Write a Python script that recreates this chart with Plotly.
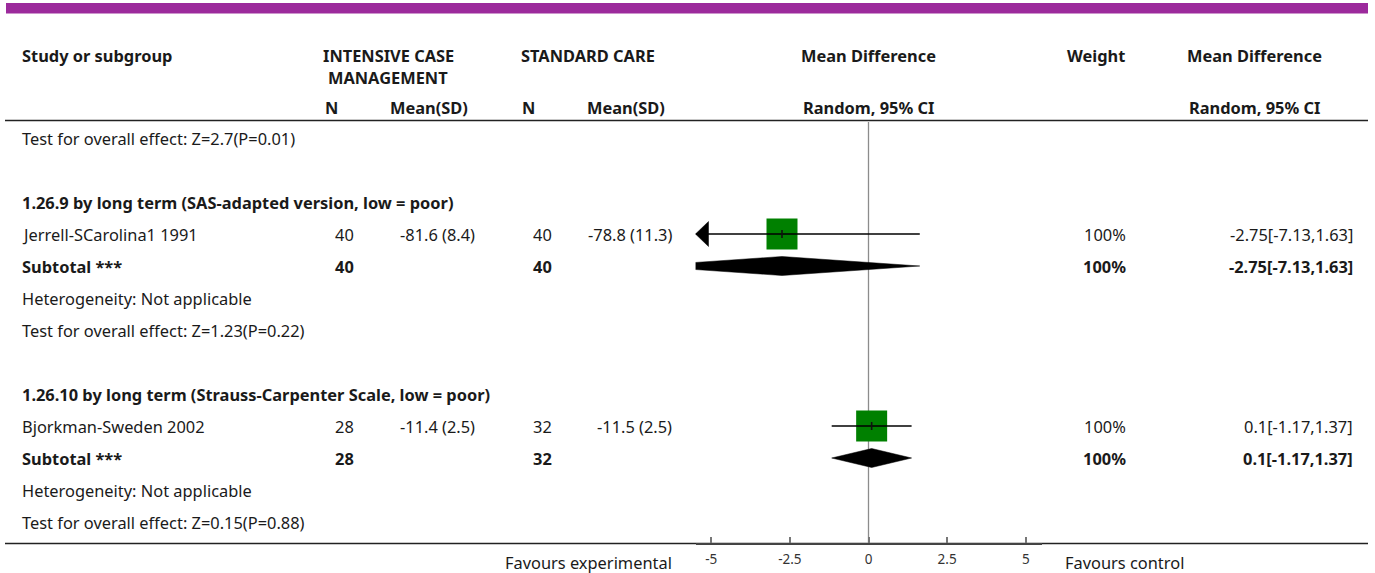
import plotly.graph_objects as go

# ---------------- data ----------------
top_test = "Test for overall effect: Z=2.7(P=0.01)"
subgroups = ["1.26.9 by long term (SAS-adapted version, low = poor)",
             "1.26.10 by long term (Strauss-Carpenter Scale, low = poor)"]
studies = ["Jerrell-SCarolina1 1991", "Bjorkman-Sweden 2002"]
n_exp = [40, 28]
mean_sd_exp = ["-81.6 (8.4)", "-11.4 (2.5)"]
n_ctl = [40, 32]
mean_sd_ctl = ["-78.8 (11.3)", "-11.5 (2.5)"]
md = [-2.75, 0.1]
ci_lo = [-7.13, -1.17]
ci_hi = [1.63, 1.37]
weights = ["100%", "100%"]
sub_n_exp = [40, 28]
sub_n_ctl = [40, 32]
sub_md = [-2.75, 0.1]
sub_lo = [-7.13, -1.17]
sub_hi = [1.63, 1.37]
sub_weight = ["100%", "100%"]
heterogeneity = ["Heterogeneity: Not applicable", "Heterogeneity: Not applicable"]
overall_tests = ["Test for overall effect: Z=1.23(P=0.22)",
                 "Test for overall effect: Z=0.15(P=0.88)"]
tick_vals = [-5, -2.5, 0, 2.5, 5]
tick_text = ["-5", "-2.5", "0", "2.5", "5"]
x_range = [-5.5, 5.5]
label_left = "Favours experimental"
label_right = "Favours control"

# ---------------- layout helpers ----------------
W, H = 1375, 573
FONT = "'Noto Sans', 'Source Sans Pro', sans-serif"
FS = 16.4
TXT = "#1a1a1a"


def px(x):
    return x / W


Y0, PITCH = 138, 32.0


def row_y(i):
    return Y0 + i * PITCH


fig = go.Figure()
ann = []


def text(x, y, s, anchor="left", bold=False, size=FS, color=TXT):
    dx = {"left": -1.5, "right": 1.5, "center": 0}[anchor]
    ann.append(dict(x=px(x + dx), y=y, xref="paper", yref="y", text=(f"<b>{s}</b>" if bold else s),
                    xanchor=anchor, yanchor="middle", showarrow=False, borderpad=0,
                    font=dict(family=FONT, size=size, color=color)))


# headers
text(22, 55, "Study or subgroup", bold=True)
text(388, 55, "INTENSIVE CASE", "center", True)
text(388, 77, "MANAGEMENT", "center", True)
text(588, 55, "STANDARD CARE", "center", True)
text(868, 55, "Mean Difference", "center", True)
text(1096, 55, "Weight", "center", True)
text(1254, 55, "Mean Difference", "center", True)
text(331, 107, "N", "center", True)
text(429, 107, "Mean(SD)", "center", True)
text(528, 107, "N", "center", True)
text(626, 107, "Mean(SD)", "center", True)
text(868, 107, "Random, 95% CI", "center", True)
text(1254, 107, "Random, 95% CI", "center", True)

text(22, row_y(0), top_test)

xmin, xmax = x_range
# zero line
fig.add_trace(go.Scatter(x=[0, 0], y=[122, 543], mode="lines",
                         line=dict(color="#8c8c8c", width=1.3), hoverinfo="skip", showlegend=False))

for g in range(len(subgroups)):
    base = 2 + g * 6
    y_head, y_st, y_sub, y_het, y_test = (row_y(base + k) for k in range(5))
    text(22, y_head, subgroups[g], bold=True)
    text(22, y_st, studies[g])
    text(354, y_st, str(n_exp[g]), "right")
    text(474, y_st, mean_sd_exp[g], "right")
    text(551, y_st, str(n_ctl[g]), "right")
    text(671, y_st, mean_sd_ctl[g], "right")
    text(1125, y_st, weights[g], "right")
    text(1352, y_st, f"{md[g]}[{ci_lo[g]},{ci_hi[g]}]", "right")
    text(22, y_sub, "Subtotal ***", bold=True)
    text(354, y_sub, str(sub_n_exp[g]), "right", True)
    text(551, y_sub, str(sub_n_ctl[g]), "right", True)
    text(1125, y_sub, sub_weight[g], "right", True)
    text(1352, y_sub, f"{sub_md[g]}[{sub_lo[g]},{sub_hi[g]}]", "right", True)
    text(22, y_het, heterogeneity[g])
    text(22, y_test, overall_tests[g])

    # study square
    fig.add_trace(go.Scatter(x=[md[g]], y=[y_st], mode="markers",
                             marker=dict(symbol="square", size=31, color="#008000", line=dict(width=0)),
                             hoverinfo="skip", showlegend=False))
    lo_c, hi_c = max(ci_lo[g], xmin), min(ci_hi[g], xmax)
    fig.add_trace(go.Scatter(x=[lo_c, hi_c], y=[y_st, y_st], mode="lines",
                             line=dict(color="black", width=1.3), hoverinfo="skip", showlegend=False))
    fig.add_trace(go.Scatter(x=[md[g], md[g]], y=[y_st - 4, y_st + 4], mode="lines",
                             line=dict(color="#111", width=1.6), hoverinfo="skip", showlegend=False))
    aw = 13 / ((1041.5 - 695.5) / (xmax - xmin))
    if ci_lo[g] < xmin:
        fig.add_trace(go.Scatter(x=[xmin, xmin + aw, xmin + aw, xmin], y=[y_st, y_st - 12.5, y_st + 12.5, y_st],
                                 mode="lines", fill="toself", fillcolor="black",
                                 line=dict(color="black", width=0.5), hoverinfo="skip", showlegend=False))
    if ci_hi[g] > xmax:
        fig.add_trace(go.Scatter(x=[xmax, xmax - aw, xmax - aw, xmax], y=[y_st, y_st - 12.5, y_st + 12.5, y_st],
                                 mode="lines", fill="toself", fillcolor="black",
                                 line=dict(color="black", width=0.5), hoverinfo="skip", showlegend=False))

    # subtotal diamond (clipped to axis range)
    hh = 9.5
    lo, m, hi = sub_lo[g], sub_md[g], sub_hi[g]
    xs, ys = [], []
    if lo < xmin:
        h = hh * (xmin - lo) / (m - lo)
        xs += [xmin, xmin]
        ys += [y_sub + h, y_sub - h]
    else:
        xs += [lo]
        ys += [y_sub]
    xs += [m]
    ys += [y_sub - hh]
    if hi > xmax:
        h = hh * (hi - xmax) / (hi - m)
        xs += [xmax, xmax]
        ys += [y_sub - h, y_sub + h]
    else:
        xs += [hi]
        ys += [y_sub]
    xs += [m, xs[0]]
    ys += [y_sub + hh, ys[0]]
    fig.add_trace(go.Scatter(x=xs, y=ys, mode="lines", fill="toself", fillcolor="black",
                             line=dict(color="black", width=0.5), hoverinfo="skip", showlegend=False))

text(671, 562, label_left, "right")
text(1065, 562, label_right, "left")

shapes = [
    dict(type="rect", xref="paper", yref="y", x0=px(6), x1=px(1368), y0=3, y1=13.5,
         fillcolor="#9c2a9c", line=dict(width=0), layer="below"),
    dict(type="line", xref="paper", yref="y", x0=px(5), x1=px(1368), y0=120.5, y1=120.5,
         line=dict(color="#222", width=1.5)),
    dict(type="line", xref="paper", yref="y", x0=px(5), x1=px(1368), y0=543.5, y1=543.5,
         line=dict(color="#222", width=1.5), layer="below"),
]

fig.update_layout(
    width=W, height=H, margin=dict(l=0, r=0, t=0, b=0),
    paper_bgcolor="white", plot_bgcolor="rgba(0,0,0,0)",
    annotations=ann, shapes=shapes, showlegend=False,
    xaxis=dict(domain=[px(695.5), px(1041.5)], range=x_range, anchor="free", position=1 - 543.5 / H,
               showline=True, linecolor="#444", linewidth=2, ticks="inside", ticklen=6,
               tickcolor="#777", tickwidth=1.5, tickvals=tick_vals, ticktext=tick_text,
               tickfont=dict(family=FONT, size=13.5, color="#333"), showgrid=False, zeroline=False,
               ticklabelstandoff=3, fixedrange=True),
    yaxis=dict(domain=[0, 1], range=[H, 0], visible=False, fixedrange=True),
)

fig.write_html("out.html", config={"displayModeBar": False},
               post_script="document.body.style.margin='0';document.body.style.overflow='hidden';")
